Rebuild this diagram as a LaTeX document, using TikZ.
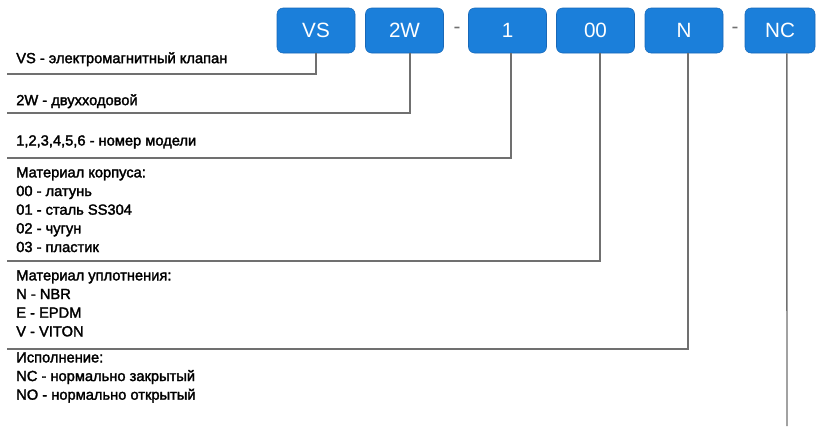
\documentclass[tikz,border=0pt]{standalone}
\usepackage{fontspec}
\setmainfont{Liberation Sans}
\newfontfamily\descfont[FakeBold=2]{Liberation Sans}
\usetikzlibrary{positioning}
\definecolor{boxblue}{HTML}{1B7FDA}
\definecolor{boxedge}{HTML}{1868B8}
\definecolor{linegray}{HTML}{707070}

\begin{document}
\begin{tikzpicture}[x=0.75pt,y=-0.75pt,
	codebox/.style={draw=boxedge, fill=boxblue, rounded corners=4.5pt, minimum width=58.5pt, minimum height=33.75pt, inner sep=0pt, text=white, font=\fontsize{15.5}{15.5}\selectfont},
	sep/.style={text=linegray, font=\fontsize{15.5}{15.5}\selectfont},
	desc/.style={anchor=north west, align=left, inner sep=0pt, font=\descfont\fontsize{11}{14}\selectfont},
	lead/.style={draw=linegray, line width=1.1pt}]
	\useasboundingbox (0,0) rectangle (819,426);

	% code boxes
	\node[codebox] (vs) at (316,30.5) {VS};
	\node[codebox] (way) at (404.5,30.5) {2W};
	\node[sep] (dasha) at (457,30.5) {-};
	\node[codebox] (model) at (507.5,30.5) {1};
	\node[codebox] (body) at (595.5,30.5) {00};
	\node[codebox] (seal) at (684,30.5) {N};
	\node[sep] (dashb) at (735,30.5) {-};
	\node[codebox, minimum width=52.5pt] (mode) at (780,30.5) {NC};

	% descriptions
	\node[desc] (vstext) at (16,52) {VS - электромагнитный клапан};
	\node[desc] (waytext) at (16,94) {2W - двухходовой};
	\node[desc] (modeltext) at (16,135) {1,2,3,4,5,6 - номер модели};
	\node[desc] (bodytext) at (16,167) {Материал корпуса:\\00 - латунь\\01 - сталь SS304\\02 - чугун\\03 - пластик};
	\node[desc] (sealtext) at (16,270) {Материал уплотнения:\\N - NBR\\E - EPDM\\V - VITON};
	\node[desc] (modetext) at (16,352) {Исполнение:\\NC - нормально закрытый\\NO - нормально открытый};

	% leader lines
	\coordinate (vsend) at (7,74);
	\coordinate (wayend) at (7,113);
	\coordinate (modelend) at (7,158);
	\coordinate (bodyend) at (7,261);
	\coordinate (sealend) at (7,349);
	\coordinate (modeend) at (787,426);

	\draw[lead] (vs.south) |- (vsend);
	\draw[lead] ([xshift=4pt]way.south) |- (wayend);
	\draw[lead] ([xshift=2.6pt]model.south) |- (modelend);
	\draw[lead] ([xshift=3.4pt]body.south) |- (bodyend);
	\draw[lead] ([xshift=3pt]seal.south) |- (sealend);
	\draw[lead] ([xshift=5.2pt]mode.south) -- (modeend);
\end{tikzpicture}
\end{document}
